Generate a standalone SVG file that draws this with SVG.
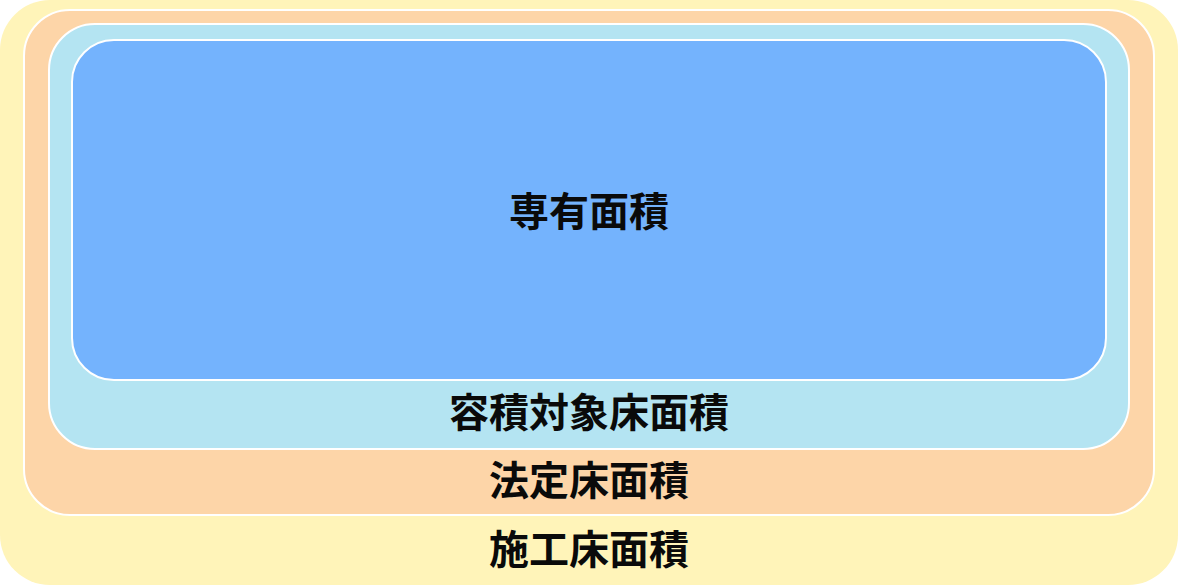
<svg xmlns="http://www.w3.org/2000/svg" width="1178" height="585" viewBox="0 0 1178 585">
<style>
.lbl{font-family:"Noto Sans CJK JP","Noto Sans CJK SC",sans-serif;font-weight:700;font-size:40px;fill:#0a0a0a;text-anchor:middle}
.box{stroke:#ffffff;stroke-width:2}
</style>
<rect width="1178" height="585" fill="#ffffff"/>
<g id="sekou">
<rect x="0" y="0" width="1178" height="585" rx="50" ry="50" fill="#FFF4B9"/>
<text class="lbl" x="589" y="564">施工床面積</text>
</g>
<g id="houtei">
<rect class="box" x="24" y="10" width="1130" height="505" rx="46" ry="46" fill="#FDD5A8"/>
<text class="lbl" x="589" y="495">法定床面積</text>
</g>
<g id="youseki">
<rect class="box" x="49" y="24" width="1080" height="425" rx="46" ry="46" fill="#B4E4F2"/>
<text class="lbl" x="589" y="427">容積対象床面積</text>
</g>
<g id="senyuu">
<rect class="box" x="72" y="40" width="1034" height="340" rx="42" ry="42" fill="#74B3FD"/>
<text class="lbl" x="589" y="226">専有面積</text>
</g>
<g id="connectors"></g>
</svg>
